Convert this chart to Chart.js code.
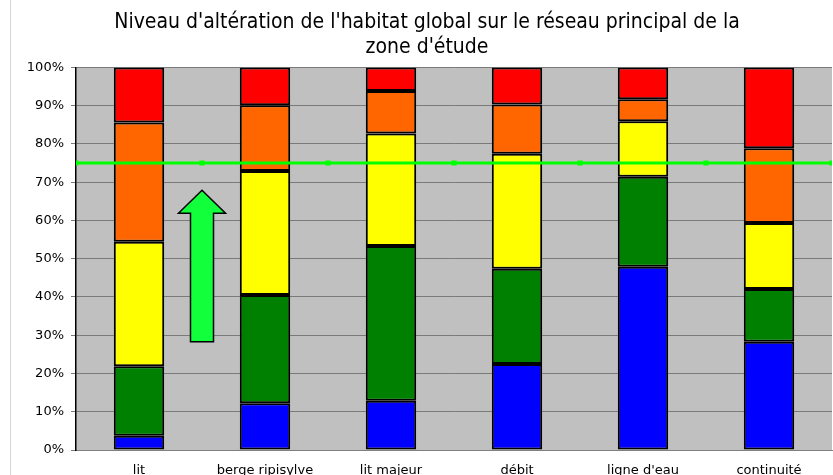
<!DOCTYPE html>
<html lang="fr">
<head>
<meta charset="utf-8">
<title>Niveau d'altération de l'habitat global</title>
<script src="https://cdn.jsdelivr.net/npm/chart.js@4/dist/chart.umd.min.js"></script>
<style>
  html, body { margin: 0; padding: 0; background: #ffffff; overflow: hidden; }
  canvas { display: block; }
</style>
</head>
<body>
<canvas id="chart" width="833" height="475"></canvas>
<script>
// Compartiments du réseau principal
const categories = ['lit', 'berge ripisylve', 'lit majeur', 'débit', "ligne d'eau", 'continuité'];

// Part (en %) de chaque classe d'altération, du meilleur état (bleu) au pire (rouge)
const classeBleu   = [3.7, 12.2, 12.9, 22.5, 47.9, 28.3];
const classeVert   = [18.2, 28.3, 40.4, 24.9, 23.5, 13.8];
const classeJaune  = [32.5, 32.4, 29.4, 30.0, 14.5, 17.2];
const classeOrange = [31.2, 17.2, 11.1, 12.9, 5.8, 19.6];
const classeRouge  = [14.4, 9.9, 6.2, 9.7, 8.3, 21.1];

// Seuil d'objectif (en %)
const seuil = 75;
const seuilPositions = [0, 1, 2, 3, 4, 5, 6];

// Flèche d'objectif : position sur l'axe horizontal et bornes en %
const flecheX = 1;
const flecheBas = 28.3;
const flecheBaseTete = 61.9;
const flecheHaut = 67.9;

// Graduations de l'axe vertical
const yTicks = [0, 10, 20, 30, 40, 50, 60, 70, 80, 90, 100];

const tickFont = { family: 'DejaVu Sans', size: 13 };

const fondPlugin = {
  id: 'fond',
  beforeDraw(chart) {
    const { ctx, chartArea: a } = chart;
    ctx.save();
    ctx.fillStyle = '#ffffff';
    ctx.fillRect(0, 0, chart.width, chart.height);
    ctx.strokeStyle = '#d4d4d4';
    ctx.lineWidth = 1;
    ctx.beginPath();
    ctx.moveTo(10.5, 0);
    ctx.lineTo(10.5, chart.height);
    ctx.stroke();
    ctx.fillStyle = '#c0c0c0';
    ctx.fillRect(a.left, a.top, a.right - a.left, a.bottom - a.top);
    ctx.restore();
  }
};

const flechePlugin = {
  id: 'fleche',
  afterDatasetsDraw(chart) {
    const { ctx } = chart;
    const xs = chart.scales.x2, ys = chart.scales.y;
    const cx = xs.getPixelForValue(flecheX);
    const yTip = ys.getPixelForValue(flecheHaut);
    const yBase = ys.getPixelForValue(flecheBaseTete);
    const yTail = ys.getPixelForValue(flecheBas);
    const demiTete = 23.5, demiTige = 11.5;
    ctx.save();
    ctx.beginPath();
    ctx.moveTo(cx, yTip);
    ctx.lineTo(cx + demiTete, yBase);
    ctx.lineTo(cx + demiTige, yBase);
    ctx.lineTo(cx + demiTige, yTail);
    ctx.lineTo(cx - demiTige, yTail);
    ctx.lineTo(cx - demiTige, yBase);
    ctx.lineTo(cx - demiTete, yBase);
    ctx.closePath();
    ctx.fillStyle = '#12ff3c';
    ctx.fill();
    ctx.lineWidth = 1.5;
    ctx.strokeStyle = '#000000';
    ctx.lineJoin = 'miter';
    ctx.stroke();
    ctx.restore();
  }
};

function barre(label, data, color) {
  return {
    type: 'bar',
    label,
    data,
    backgroundColor: color,
    borderColor: '#000000',
    borderWidth: 2,
    borderSkipped: false,
    barPercentage: 0.8,
    categoryPercentage: 0.5,
    grouped: false,
    xAxisID: 'x',
    order: 1
  };
}

new Chart(document.getElementById('chart'), {
  data: {
    labels: categories,
    datasets: [
      {
        type: 'line',
        label: 'Seuil',
        data: seuilPositions.map(p => ({ x: p, y: seuil })),
        xAxisID: 'x2',
        borderColor: '#00ff00',
        borderWidth: 3,
        pointRadius: 1.5,
        pointStyle: 'rect',
        pointBackgroundColor: '#00ff00',
        pointBorderColor: '#00ff00',
        order: 0
      },
      barre('Très bon', classeBleu, '#0000ff'),
      barre('Bon', classeVert, '#008000'),
      barre('Moyen', classeJaune, '#ffff00'),
      barre('Médiocre', classeOrange, '#ff6600'),
      barre('Mauvais', classeRouge, '#ff0000')
    ]
  },
  options: {
    responsive: false,
    animation: false,
    devicePixelRatio: 1,
    layout: { autoPadding: false, padding: { left: 22, right: 1, top: 0, bottom: 0 } },
    plugins: {
      legend: { display: false },
      tooltip: { enabled: false },
      title: {
        display: true,
        text: ["Niveau d'altération de l'habitat global sur le réseau principal de la", "zone d'étude"],
        color: '#000000',
        font: { family: "'Liberation Sans Narrow', 'DejaVu Sans Condensed', sans-serif", size: 21, weight: 'normal', lineHeight: 1.2 },
        padding: { top: 10, bottom: 7 }
      }
    },
    scales: {
      x: {
        type: 'category',
        stacked: true,
        offset: true,
        grid: { display: false, drawTicks: false },
        border: { display: true, color: '#808080', width: 1 },
        ticks: { color: '#000000', font: tickFont, padding: 13, maxRotation: 0, autoSkip: false },
        afterFit(scale) {
          scale.height = 25;
          scale.paddingLeft = 0;
          scale.paddingRight = 0;
        }
      },
      x2: {
        type: 'linear',
        min: 0,
        max: 6,
        display: false
      },
      y: {
        stacked: true,
        min: 0,
        max: 100,
        afterBuildTicks(scale) { scale.ticks = yTicks.map(v => ({ value: v })); },
        ticks: {
          color: '#000000',
          font: tickFont,
          padding: 7,
          callback: v => v + '%'
        },
        grid: { color: '#7a7a7a', lineWidth: 1, tickLength: 5, tickColor: '#7a7a7a' },
        border: { display: true, color: '#000000', width: 1.5 },
        afterFit(scale) { scale.width = 54; }
      }
    }
  },
  plugins: [fondPlugin, flechePlugin]
});
</script>
</body>
</html>
